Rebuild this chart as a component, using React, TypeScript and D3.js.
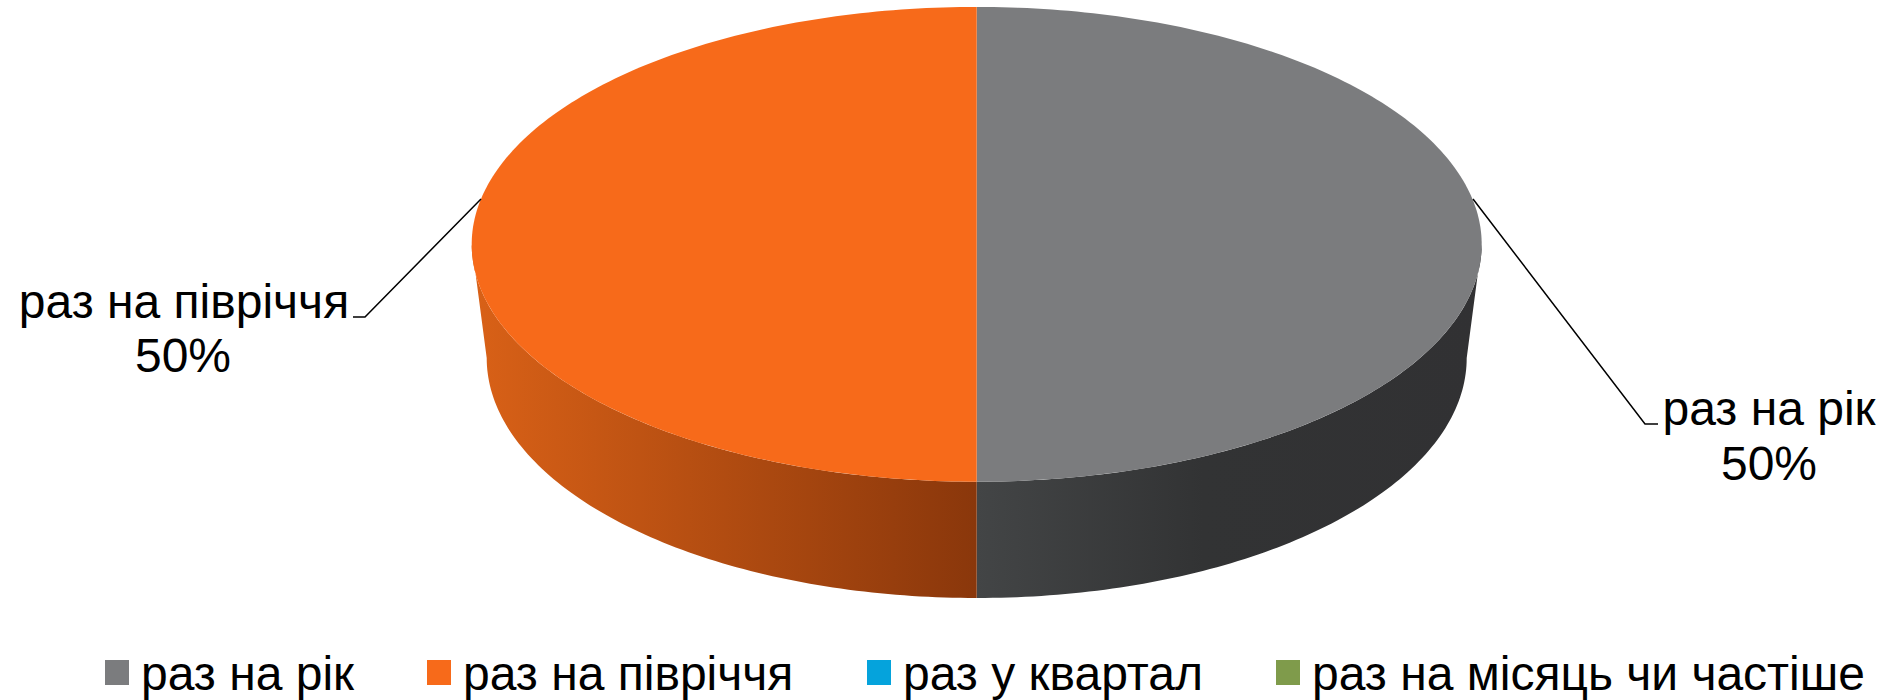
import React from "react";
import * as d3 from "d3";

const categories = ["раз на рік", "раз на півріччя", "раз у квартал", "раз на місяць чи частіше"];
const shares = [50, 50, 0, 0];
const colors = ["#7b7c7e", "#f76a1a", "#05a3dc", "#7f9b4b"];
const legendX = [105, 427, 867, 1276];

const width = 1888;
const height = 700;
const font = "'Liberation Sans', Arial, sans-serif";
const fontSize = 48;

// top face and the slightly smaller bottom face of the tilted pie
const top = { cx: 976.7, cy: 244.3, rx: 505, ry: 237.4 };
const bottom = { cx: 976.7, cy: 358, rx: 490, ry: 240 };

const onEllipse = (e: typeof top, a: number): [number, number] => [
  e.cx + e.rx * Math.sin(a),
  e.cy - e.ry * Math.cos(a),
];

const sweep = (from: number, to: number) => {
  const n = Math.max(2, Math.ceil(Math.abs(to - from) * 60));
  return d3.range(n + 1).map((i) => from + ((to - from) * i) / n);
};

const line = d3.line();

export default function App() {
  const pie = d3.pie<number>().sort(null)(shares);
  const drawn = pie.filter((d) => d.value > 0);

  const facePath = (d: d3.PieArcDatum<number>) =>
    line([
      [top.cx, top.cy],
      ...sweep(d.startAngle, d.endAngle).map((a) => onEllipse(top, a)),
    ]) + "Z";

  // wall under the front half of a slice (angles PI/2 .. 3PI/2 face the viewer)
  const wallPath = (d: d3.PieArcDatum<number>) => {
    const from = Math.max(d.startAngle, Math.PI / 2);
    const to = Math.min(d.endAngle, (Math.PI * 3) / 2);
    return (
      line([
        ...sweep(from, to).map((a) => onEllipse(top, a)),
        ...sweep(to, from).map((a) => onEllipse(bottom, a)),
      ]) + "Z"
    );
  };

  return (
    <svg
      width={width}
      height={height}
      style={{ position: "absolute", left: 0, top: 0, display: "block" }}
      fontFamily={font}
      fontSize={fontSize}
      fill="#000"
    >
      <defs>
        <linearGradient id="wall0" gradientUnits="userSpaceOnUse" x1={976.7} x2={1481} y1={0} y2={0}>
          <stop offset="0" stopColor="#434546" />
          <stop offset="0.45" stopColor="#323334" />
          <stop offset="1" stopColor="#313133" />
        </linearGradient>
        <linearGradient id="wall1" gradientUnits="userSpaceOnUse" x1={472} x2={976.7} y1={0} y2={0}>
          <stop offset="0" stopColor="#d96117" />
          <stop offset="1" stopColor="#8a370b" />
        </linearGradient>
      </defs>

      {drawn.map((d) => (
        <path key={"wall" + d.index} d={wallPath(d)} fill={`url(#wall${d.index})`} />
      ))}
      {drawn.map((d) => (
        <path key={"face" + d.index} d={facePath(d)} fill={colors[d.index]} />
      ))}

      <path d={line([[1473, 199], [1645, 424], [1658, 424]]) as string} fill="none" stroke="#000" strokeWidth={1.5} />
      <path d={line([[481, 199], [365, 317], [353, 317]]) as string} fill="none" stroke="#000" strokeWidth={1.5} />

      <text x={1769} y={425} textAnchor="middle">{categories[0]}</text>
      <text x={1769} y={480} textAnchor="middle">{shares[0]}%</text>
      <text x={184} y={318} textAnchor="middle">{categories[1]}</text>
      <text x={183} y={372} textAnchor="middle">{shares[1]}%</text>

      {categories.map((c, i) => (
        <g key={c}>
          <rect x={legendX[i]} y={660} width={24} height={25} fill={colors[i]} />
          <text x={legendX[i] + 36} y={690}>{c}</text>
        </g>
      ))}
    </svg>
  );
}
